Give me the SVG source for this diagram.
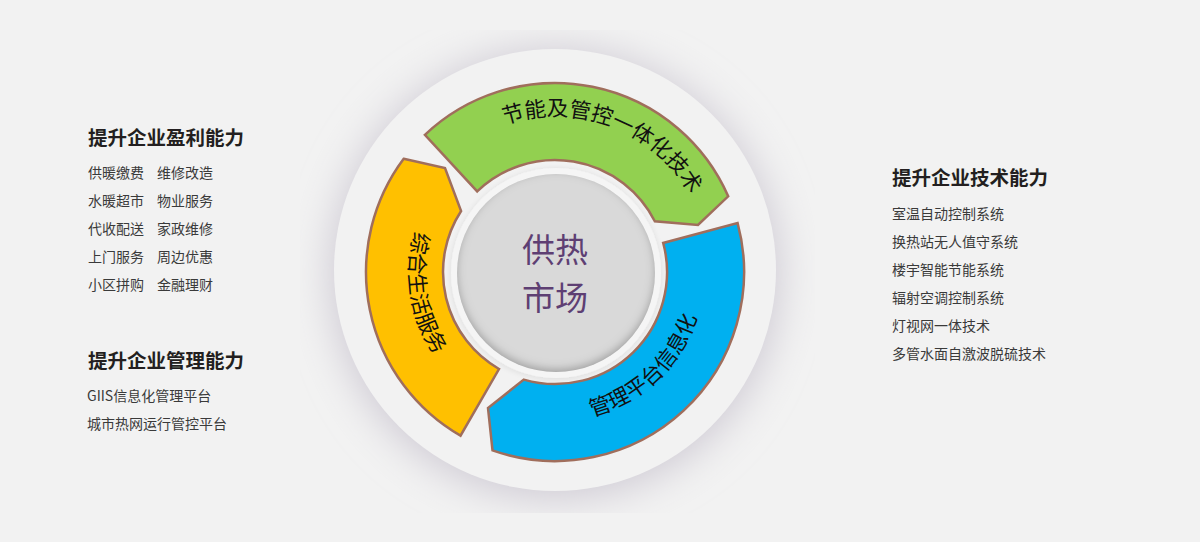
<svg xmlns="http://www.w3.org/2000/svg" xmlns:xlink="http://www.w3.org/1999/xlink" width="1200" height="542" viewBox="0 0 1200 542">
  <style>
    .hd { font-family: "Noto Sans CJK SC", "Noto Sans", sans-serif; font-size: 19.5px; font-weight: 700; fill: #231f20; }
    .it { font-family: "Noto Sans CJK SC", "Noto Sans", sans-serif; font-size: 14px; fill: #3a3a3a; }
    .seg { stroke: #a06e5c; stroke-width: 2.5; stroke-linejoin: miter; }
    .segtxt { font-family: "Noto Sans CJK SC", "Noto Sans", sans-serif; font-size: 21.5px; fill: #111; }
    .ctr { font-family: "Noto Sans CJK SC", "Noto Sans", sans-serif; font-size: 33px; fill: #5e3f73; text-anchor: middle; }
  </style>
  <defs>
    <filter id="bigShadow" filterUnits="userSpaceOnUse" x="300" y="30" width="515" height="483">
      <feGaussianBlur stdDeviation="20"/>
    </filter>
    <filter id="inset" x="-10%" y="-10%" width="120%" height="120%">
      <feFlood flood-color="#000" flood-opacity="0.5"/>
      <feComposite in2="SourceAlpha" operator="out"/>
      <feGaussianBlur stdDeviation="4"/>
      <feOffset dx="0" dy="-3"/>
      <feComposite in2="SourceAlpha" operator="in" result="sh"/>
      <feMerge><feMergeNode in="SourceGraphic"/><feMergeNode in="sh"/></feMerge>
    </filter>
    <filter id="plateShadow" x="-20%" y="-20%" width="140%" height="140%">
      <feGaussianBlur in="SourceAlpha" stdDeviation="3"/>
      <feOffset dy="1"/>
      <feComponentTransfer><feFuncA type="linear" slope="0.1"/></feComponentTransfer>
      <feMerge><feMergeNode/><feMergeNode in="SourceGraphic"/></feMerge>
    </filter>
    <path id="pGreen" d="M 456.2 151.3 A 156 156 0 0 1 709.0 246.8"/>
    <path id="pYellow" d="M 462.7 158.9 A 146 146 0 0 0 503.2 408.5"/>
    <path id="pBlue" d="M 512.4 414.8 A 149 149 0 0 0 699.9 237.5"/>
  </defs>

  <rect x="0" y="0" width="1200" height="542" fill="#f2f2f2"/>

  <g id="node-outer-ring">
    <circle cx="555" cy="274" r="224" fill="#cdc9d3" filter="url(#bigShadow)"/>
    <circle cx="555" cy="270" r="221" fill="#f2f2f2"/>
  </g>

  <g id="node-center">
    <circle cx="556" cy="273" r="105" fill="#f5f5f5" filter="url(#plateShadow)"/>
    <circle cx="556" cy="273" r="99" fill="#d9d9d9" filter="url(#inset)"/>
    <text class="ctr" x="555" y="262">供热</text>
    <text class="ctr" x="555" y="310">市场</text>
  </g>

  <g id="node-green">
    <path class="seg" fill="#92d050" d="M 424.9 134.9 A 189 189 0 0 1 728.2 196.3 L 698 225 L 654.8 221.2 A 112 112 0 0 0 477.2 191.4 Z"/>
    <text class="segtxt"><textPath xlink:href="#pGreen" href="#pGreen" startOffset="50%" text-anchor="middle">节能及管控一体化技术</textPath></text>
  </g>

  <g id="node-yellow">
    <path class="seg" fill="#ffc000" d="M 403.7 158.8 L 445 168 L 461.1 211.0 A 112 112 0 0 0 499.0 369.0 L 460.5 435.7 A 189 189 0 0 1 403.7 158.8 Z"/>
    <text class="segtxt"><textPath xlink:href="#pYellow" href="#pYellow" startOffset="50%" text-anchor="middle">综合生活服务</textPath></text>
  </g>

  <g id="node-blue">
    <path class="seg" fill="#00b0f0" d="M 737.6 223.1 A 189 189 0 0 1 492.5 450.4 L 488 408 L 523.8 379.6 A 112 112 0 0 0 663.2 243.0 Z"/>
    <text class="segtxt"><textPath xlink:href="#pBlue" href="#pBlue" startOffset="50%" text-anchor="middle">管理平台信息化</textPath></text>
  </g>

  <g id="node-left-profit">
    <text class="hd" x="88" y="145">提升企业盈利能力</text>
    <text class="it" x="88" y="178">供暖缴费</text>
    <text class="it" x="157" y="178">维修改造</text>
    <text class="it" x="88" y="206">水暖超市</text>
    <text class="it" x="157" y="206">物业服务</text>
    <text class="it" x="88" y="234">代收配送</text>
    <text class="it" x="157" y="234">家政维修</text>
    <text class="it" x="88" y="262">上门服务</text>
    <text class="it" x="157" y="262">周边优惠</text>
    <text class="it" x="88" y="290">小区拼购</text>
    <text class="it" x="157" y="290">金融理财</text>
  </g>

  <g id="node-left-manage">
    <text class="hd" x="88" y="368">提升企业管理能力</text>
    <text class="it" x="87" y="401">GIIS信息化管理平台</text>
    <text class="it" x="87" y="429">城市热网运行管控平台</text>
  </g>

  <g id="node-right-tech">
    <text class="hd" x="892" y="185">提升企业技术能力</text>
    <text class="it" x="892" y="219">室温自动控制系统</text>
    <text class="it" x="892" y="247">换热站无人值守系统</text>
    <text class="it" x="892" y="275">楼宇智能节能系统</text>
    <text class="it" x="892" y="303">辐射空调控制系统</text>
    <text class="it" x="892" y="331">灯视网一体技术</text>
    <text class="it" x="892" y="359">多管水面自激波脱硫技术</text>
  </g>
</svg>
